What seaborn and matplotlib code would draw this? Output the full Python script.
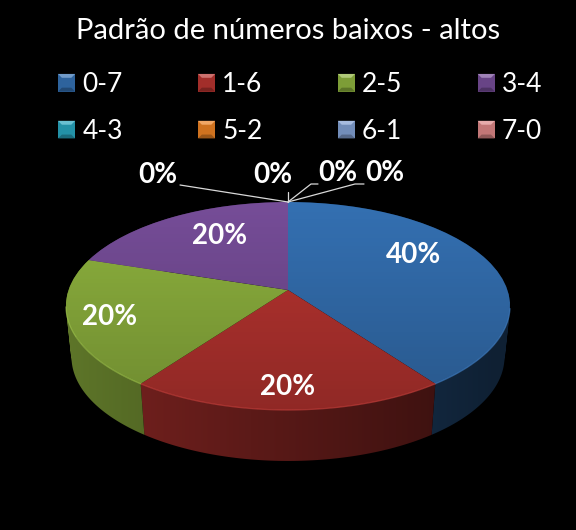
import numpy as np
import matplotlib
matplotlib.use("Agg")
import matplotlib.pyplot as plt
from matplotlib.legend_handler import HandlerBase
from matplotlib.patches import Patch, Polygon, Rectangle
from matplotlib.path import Path
from matplotlib.transforms import Transform
import seaborn as sns

title = "Padrão de números baixos - altos"
categories = ["0-7", "1-6", "2-5", "3-4", "4-3", "5-2", "6-1", "7-0"]
shares = [40, 20, 20, 20, 0, 0, 0, 0]
slice_colors = ["#3470B2", "#B83430", "#8EB23E", "#764D98",
                "#28A5BE", "#EB8223", "#82A0D2", "#DC8787"]

sns.set_theme(style="dark", rc={"figure.facecolor": "black", "axes.facecolor": "black"})
plt.rcParams["font.family"] = ["Lato", "DejaVu Sans"]
palette = sns.color_palette(slice_colors)

# projection of the unit disc to the tilted, perspective pie in pixel space
CX, CY, A, B, K = 288.0, 290.0, 219.4, 101.5, 0.154


def project(xy):
    xy = np.asarray(xy, dtype=float)
    w = 1.0 / (1.0 + K * xy[..., 1])
    return np.stack([CX + A * xy[..., 0] * w, CY - B * xy[..., 1] * w], axis=-1)


class Tilt(Transform):
    input_dims = 2
    output_dims = 2
    is_affine = False

    def transform_non_affine(self, values):
        return project(values)


class BevelHandler(HandlerBase):
    def create_artists(self, legend, orig, xd, yd, w, h, fontsize, trans):
        col = np.array(orig.get_facecolor()[:3])
        base = Rectangle((-xd, -yd), w, h, facecolor=col * 0.88, edgecolor="none", transform=trans)
        b = h * 0.22
        light = Polygon([(-xd, -yd + h), (-xd + w, -yd + h), (-xd + w - b, -yd + h - b),
                         (-xd + b, -yd + h - b)], closed=True,
                        facecolor=col * 0.7 + 0.3, edgecolor="none", transform=trans)
        dark = Polygon([(-xd, -yd), (-xd + w, -yd), (-xd + w - b, -yd + b), (-xd + b, -yd + b)],
                       closed=True, facecolor=col * 0.65, edgecolor="none", transform=trans)
        return [base, light, dark]


def disc(angle_deg):
    a = np.radians(angle_deg)
    return np.stack([np.cos(a), np.sin(a)], axis=-1)


def lower(pts):
    out = np.array(pts, dtype=float)
    out[..., 0] = CX + (out[..., 0] - CX) * 0.975
    out[..., 1] = out[..., 1] + 51
    return out


def wall_path(top, bot):
    """Union of the wall's quads, all wound the same way."""
    verts, codes = [], []
    for j in range(len(top) - 1):
        quad = np.vstack([top[j], top[j + 1], bot[j + 1], bot[j]])
        x, y = quad[:, 0], quad[:, 1]
        area = np.dot(x, np.roll(y, -1)) - np.dot(y, np.roll(x, -1))
        if area < 0:
            quad = quad[::-1]
        verts.extend([*quad, quad[0]])
        codes.extend([Path.MOVETO, Path.LINETO, Path.LINETO, Path.LINETO, Path.CLOSEPOLY])
    return Path(np.array(verts), codes)


fig = plt.figure(figsize=(5.76, 5.30), dpi=100, facecolor="black")
ax = fig.add_axes([0, 0, 1, 1], facecolor="black")

# side wall, slice by slice, shaded from left to right
edges = 90 - np.cumsum([0] + shares) * 3.6
ramp = np.clip(0.66 - 0.38 * (np.linspace(60, 516, 256) - 66) / 440, 0.29, 0.7)
for i, col in enumerate(palette):
    if shares[i] == 0:
        continue
    angles = np.linspace(edges[i], edges[i + 1], int(shares[i] * 4) + 2)
    top = project(disc(angles))
    bot = lower(top)
    tex = np.outer(ramp, np.array(col))[None, :, :]
    im = ax.imshow(tex, extent=(60, 516, 470, 200), aspect="auto", zorder=1,
                   interpolation="bilinear")
    im.set_clip_path(wall_path(top, bot), ax.transData)

# top face
wedges, _ = ax.pie(shares, colors=palette, startangle=90, counterclock=False,
                   radius=1, frame=True, wedgeprops={"linewidth": 0})
tilt = Tilt()
for w in wedges:
    w.set_transform(tilt + ax.transData)
    w.set_zorder(2)

# top-to-bottom darkening of the face
grad = np.zeros((256, 1, 4))
grad[:, 0, 3] = np.linspace(0.0, 0.22, 256)
img = ax.imshow(grad, extent=(60, 516, 412, 200), aspect="auto", zorder=3,
                interpolation="bilinear")
outline = Polygon(project(disc(np.linspace(0, 360, 361))), closed=True,
                  transform=ax.transData, facecolor="none", edgecolor="none")
ax.add_patch(outline)
img.set_clip_path(outline)

# pale rim along the front edge
for i, col in enumerate(palette):
    if shares[i] == 0:
        continue
    angles = np.linspace(edges[i], edges[i + 1], 80)
    rim = project(disc(angles))
    keep = rim[:, 1] >= 306
    pale = tuple(min(1, c * 1.05 + 0.05) for c in col)
    ax.plot(rim[keep, 0], rim[keep, 1], color=pale, lw=0.9, alpha=0.6, zorder=4)

ax.set_xlim(0, 576)
ax.set_ylim(530, 0)
ax.axis("off")

# percentage labels
label_xy = [(414, 255), (288, 387), (110, 317), (220, 236),
            (158, 175), (273, 175), (338, 173), (385, 173)]
for share, (x, y) in zip(shares, label_xy):
    ax.text(x, y, f"{share}%", color="white", fontsize=20, fontweight="bold",
            ha="center", va="center", zorder=6)

# leader lines of the empty slices
leaders = [[(180, 185), (288, 202)],
           [(288, 192), (288, 202)],
           [(318, 184), (311, 184), (288, 202)],
           [(364, 184), (355, 184), (288, 202)]]
for seg in leaders:
    pts = np.array(seg)
    ax.plot(pts[:, 0], pts[:, 1], color="#D9D9D9", lw=0.9, zorder=5)

ax.text(288, 31, title, color="white", fontsize=21, ha="center", va="center")

handles = [Patch(facecolor=c, edgecolor="none", label=n) for c, n in zip(palette, categories)]
order = [0, 4, 1, 5, 2, 6, 3, 7]  # legend fills by column; the reference reads by row
leg = ax.legend(handles=[handles[k] for k in order], ncol=4, loc="upper left",
                bbox_to_anchor=(58 / 576, 1 - 72 / 530), frameon=False,
                fontsize=19, labelcolor="white", handlelength=0.65, handleheight=0.65,
                handletextpad=0.27, columnspacing=2.85, labelspacing=0.83,
                borderpad=0, borderaxespad=0,
                handler_map={Patch: BevelHandler()})
leg.set_zorder(6)

fig.savefig("out.png", dpi=100, facecolor="black")
